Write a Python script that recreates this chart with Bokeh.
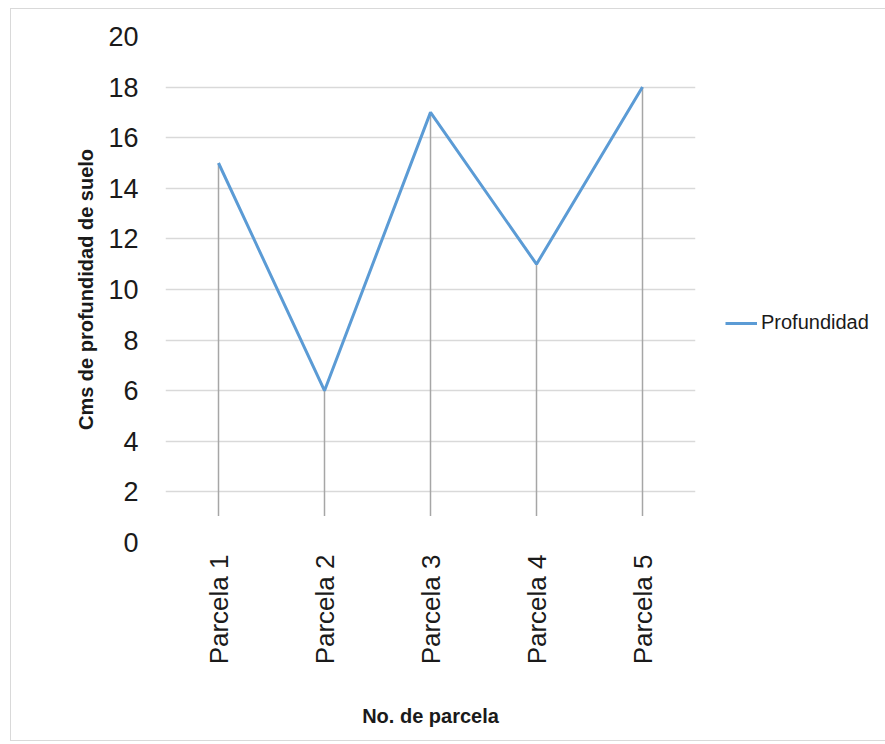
import math
from bokeh.plotting import figure
from bokeh.models import FixedTicker, Range1d, Legend, LegendItem, ColumnDataSource
from bokeh.embed import file_html
from bokeh.resources import INLINE

categories = ["Parcela 1", "Parcela 2", "Parcela 3", "Parcela 4", "Parcela 5"]
profundidad = [15, 6, 17, 11, 18]
y_ticks = [0, 2, 4, 6, 8, 10, 12, 14, 16, 18, 20]

xs = list(range(1, len(categories) + 1))
src = ColumnDataSource(dict(x=xs, y=profundidad))

FONT = "Liberation Sans"

p = figure(frame_width=530, frame_height=506, output_backend="svg", toolbar_location=None,
           x_range=Range1d(0.5, len(categories) + 0.5), y_range=Range1d(0, 20),
           min_border_left=154, min_border_right=185, min_border_top=27, min_border_bottom=198,
           margin=(8, 0, 0, 10),
           styles={"border": "1px solid #d9d9d9", "box-sizing": "border-box"})
p.outline_line_color = None
p.background_fill_color = "white"
p.border_fill_color = "white"

# x axis
p.xaxis.ticker = FixedTicker(ticks=xs)
p.xaxis.major_label_overrides = {i: c for i, c in zip(xs, categories)}
p.xaxis.major_label_orientation = math.pi / 2
p.xaxis.axis_line_color = None
p.xaxis.major_tick_line_color = None
p.xaxis.minor_tick_line_color = None
p.xaxis.major_label_text_font = FONT
p.xaxis.major_label_text_font_size = "26px"
p.xaxis.major_label_text_color = "#1a1a1a"
p.xaxis.major_label_standoff = 6
p.xaxis.axis_label = "No. de parcela"
p.xaxis.axis_label_text_font = FONT
p.xaxis.axis_label_text_font_size = "20px"
p.xaxis.axis_label_text_font_style = "bold"
p.xaxis.axis_label_text_color = "#1a1a1a"
p.xaxis.axis_label_standoff = 38

# y axis
p.yaxis.ticker = FixedTicker(ticks=y_ticks)
p.yaxis.axis_line_color = None
p.yaxis.major_tick_line_color = None
p.yaxis.minor_tick_line_color = None
p.yaxis.major_label_text_font = FONT
p.yaxis.major_label_text_font_size = "27px"
p.yaxis.major_label_text_color = "#1a1a1a"
p.yaxis.major_label_standoff = 21
p.yaxis.axis_label = "Cms de profundidad de suelo"
p.yaxis.axis_label_text_font = FONT
p.yaxis.axis_label_text_font_size = "20px"
p.yaxis.axis_label_text_font_style = "bold"
p.yaxis.axis_label_text_color = "#1a1a1a"
p.yaxis.axis_label_standoff = 8

# grids
p.xgrid.grid_line_color = None
p.ygrid.ticker = FixedTicker(ticks=y_ticks[1:])
p.ygrid.grid_line_color = "#d9d9d9"
p.ygrid.grid_line_width = 1.5

# drop lines
p.segment(x0="x", y0="y", x1="x", y1=1.05, source=src, line_color="#a6a6a6", line_width=1.5)

# main line
r = p.line("x", "y", source=src, line_color="#5b9bd5", line_width=3)

legend = Legend(items=[LegendItem(label="Profundidad", renderers=[r])],
                location=(30, 208), border_line_color=None, background_fill_alpha=0,
                label_text_font=FONT, label_text_font_size="20px", label_text_color="#1a1a1a",
                glyph_width=32, label_standoff=4, padding=0, margin=0)
p.add_layout(legend, "right")

open("out.html", "w").write(file_html(p, INLINE))
